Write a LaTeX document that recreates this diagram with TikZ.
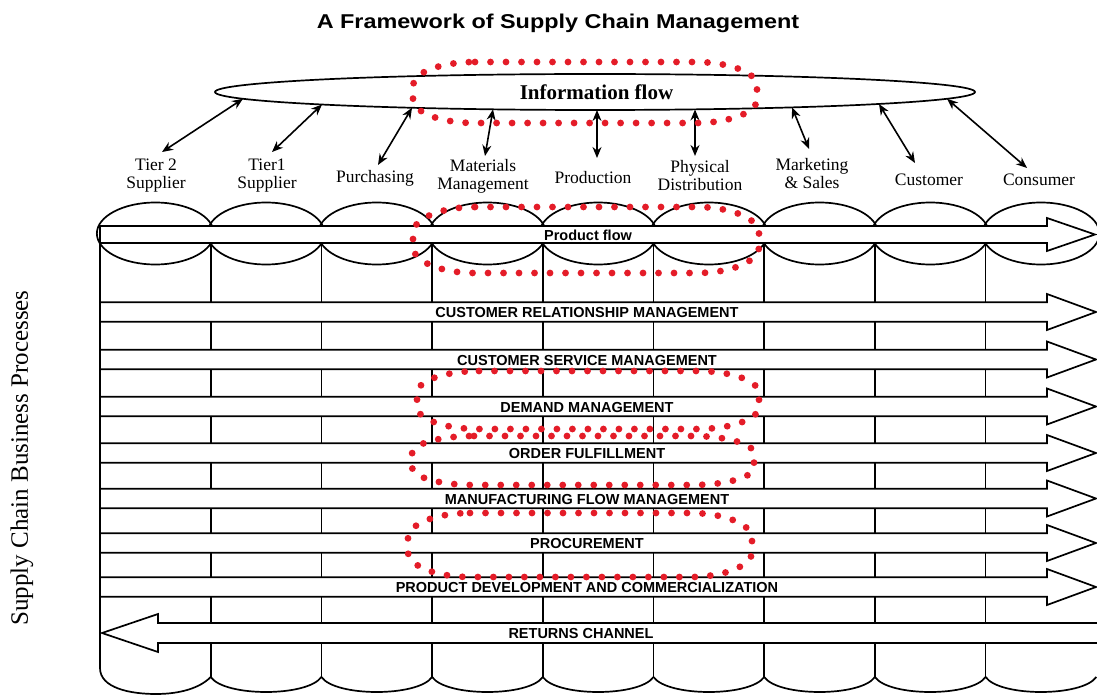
\documentclass[tikz,border=0pt]{standalone}
\usepackage{fontspec}
\usepackage{graphicx}
\setmainfont{Liberation Serif}
\setsansfont{Liberation Sans}
\usetikzlibrary{arrows.meta,shapes.geometric}
\definecolor{dotred}{RGB}{228,28,40}
\newcommand\pband[3]{%
  \draw[band] (100,{#1-9.7}) -- (1047,{#1-9.7}) -- (1047,{#1-18}) -- (1096,#1) -- (1047,{#1+18}) -- (1047,{#1+9.7}) -- (100,{#1+9.7}) -- cycle;
  \node[bandtxt] (#2) at (587,{#1+1}) {#3};}
\newcommand\redblob[4]{%
  \pgfmathsetmacro\bL{#1-#3}\pgfmathsetmacro\bR{#1+#3}%
  \pgfmathsetmacro\bT{#2-#4}\pgfmathsetmacro\bB{#2+#4}%
  \pgfmathsetmacro\ba{62}\pgfmathsetmacro\bb{#4-7}%
  \pgfmathsetmacro\ka{0.552*\ba}\pgfmathsetmacro\kb{0.552*\bb}%
  \draw[reddots] ({\bL+\ba},\bT) -- ({\bR-\ba},\bT)
    .. controls ({\bR-\ba+\ka},\bT) and (\bR,{\bT+\bb-\kb}) .. (\bR,{\bT+\bb})
    -- (\bR,{\bB-\bb})
    .. controls (\bR,{\bB-\bb+\kb}) and ({\bR-\ba+\ka},\bB) .. ({\bR-\ba},\bB)
    -- ({\bL+\ba},\bB)
    .. controls ({\bL+\ba-\ka},\bB) and (\bL,{\bB-\bb+\kb}) .. (\bL,{\bB-\bb})
    -- (\bL,{\bT+\bb})
    .. controls (\bL,{\bT+\bb-\kb}) and ({\bL+\ba-\ka},\bT) .. cycle;}
\begin{document}
\begin{tikzpicture}[x=1pt,y=-1pt,
  outl/.style={line width=1.7pt, draw=black},
  band/.style={outl, fill=white, line join=miter},
  bandtxt/.style={font=\sffamily\bfseries\fontsize{14.5}{15}\selectfont, inner sep=0pt},
  lbl/.style={font=\fontsize{17.5}{18}\selectfont, align=center, inner sep=0pt},
  dbl/.style={line width=1.6pt, {Stealth[length=11pt,width=9pt]}-{Stealth[length=11pt,width=9pt]}},
  reddots/.style={draw=dotred, line width=6.8pt, line cap=round, dash pattern=on 0pt off 15.5pt},
]
\clip (0,0) rectangle (1097,695);
\fill[white] (0,0) rectangle (1097,695);

% title
\node[font=\sffamily\bfseries\fontsize{20}{20}\selectfont, inner sep=0pt] (title) at (558,23)
  {\scalebox{1.17}[1]{A Framework of Supply Chain Management}};

% information flow ellipse
\node[ellipse, outl, fill=white, minimum width=760pt, minimum height=36pt, inner sep=0pt] (info) at (595,92) {};
\node[font=\bfseries\fontsize{21}{21}\selectfont, inner sep=0pt] (infotxt) at (596.5,92) {Information flow};

% column labels
\node[lbl] (tier2) at (156,176) {Tier 2\\Supplier};
\node[lbl] (tier1) at (267,176) {Tier1\\Supplier};
\node[lbl] (purch) at (375,178) {Purchasing};
\node[lbl] (mat)   at (483,176) {Materials\\Management};
\node[lbl] (prod)  at (593,178) {Production};
\node[lbl] (phys)  at (700,176) {Physical\\Distribution};
\node[lbl] (mkt)   at (812,174) {Marketing\\\&\ Sales};
\node[lbl] (cust)  at (929,180) {Customer};
\node[lbl] (cons)  at (1039,180) {Consumer};

% arrow end points
\coordinate (e1) at (243,98.8);  \coordinate (a1) at (162,152);
\coordinate (e2) at (322,104.5); \coordinate (a2) at (272,152);
\coordinate (e3) at (412,107.8); \coordinate (a3) at (378,165);
\coordinate (e4) at (493,109.3); \coordinate (a4) at (485,156);
\coordinate (e5) at (597,110);   \coordinate (a5) at (597,158);
\coordinate (e6) at (695,109.4); \coordinate (a6) at (695,156);
\coordinate (e7) at (792,107.4); \coordinate (a7) at (809,149);
\coordinate (e8) at (879,104);   \coordinate (a8) at (915,163);
\coordinate (e9) at (947,98.8);  \coordinate (a9) at (1027,168);
\foreach \k in {1,...,9} \draw[dbl] (e\k) -- (a\k);

% columns: top ellipses
\foreach \i in {0,...,8} \draw[outl] ({155.35+110.7*\i},233.5) ellipse [x radius=58.5, y radius=31];
% inner vertical lines
\foreach \i in {1,...,8} \draw[outl] ({100+110.7*\i},244) -- ({100+110.7*\i},677);
% left edge and first bottom arc
\draw[outl] (100,240) -- (100,668) .. controls (100,688) and (130,694) .. (156,694)
  .. controls (180,694) and (200,688) .. (210.7,677);
% bottom arcs
\foreach \i in {1,...,8} \draw[outl] ({100+110.7*\i},677) .. controls ({114+110.7*\i},697) and ({196.7+110.7*\i},697) .. ({210.7+110.7*\i},677);

% product flow
\draw[band] (100,226) -- (1047,226) -- (1047,218) -- (1095,234.5) -- (1047,251) -- (1047,243) -- (100,243) -- cycle;
\node[bandtxt] (pflow) at (588,235.5) {Product flow};

% process bands
\pband{312}{crm}{CUSTOMER RELATIONSHIP MANAGEMENT}
\pband{359.5}{csm}{CUSTOMER SERVICE MANAGEMENT}
\pband{406.5}{dm}{DEMAND MANAGEMENT}
\pband{453}{of}{ORDER FULFILLMENT}
\pband{498.5}{mfm}{MANUFACTURING FLOW MANAGEMENT}
\pband{543}{pr}{PROCUREMENT}
\pband{587}{pd}{PRODUCT DEVELOPMENT AND COMMERCIALIZATION}
% returns channel
\draw[band] (1100,623) -- (158,623) -- (158,614) -- (102,633) -- (158,652) -- (158,643) -- (1100,643) -- cycle;
\node[bandtxt] (rc) at (581,634) {RETURNS CHANNEL};

% side label
\node[rotate=90, font=\fontsize{25}{25}\selectfont, inner sep=0pt] (side) at (22,458) {Supply Chain Business Processes};

% red dotted highlights
\redblob{585}{92.5}{172}{30.5}
\redblob{586}{240}{173}{33}
\redblob{588}{400}{171}{29}
\redblob{583}{460.5}{171}{24.5}
\redblob{580}{545}{172}{32}
\end{tikzpicture}
\end{document}
